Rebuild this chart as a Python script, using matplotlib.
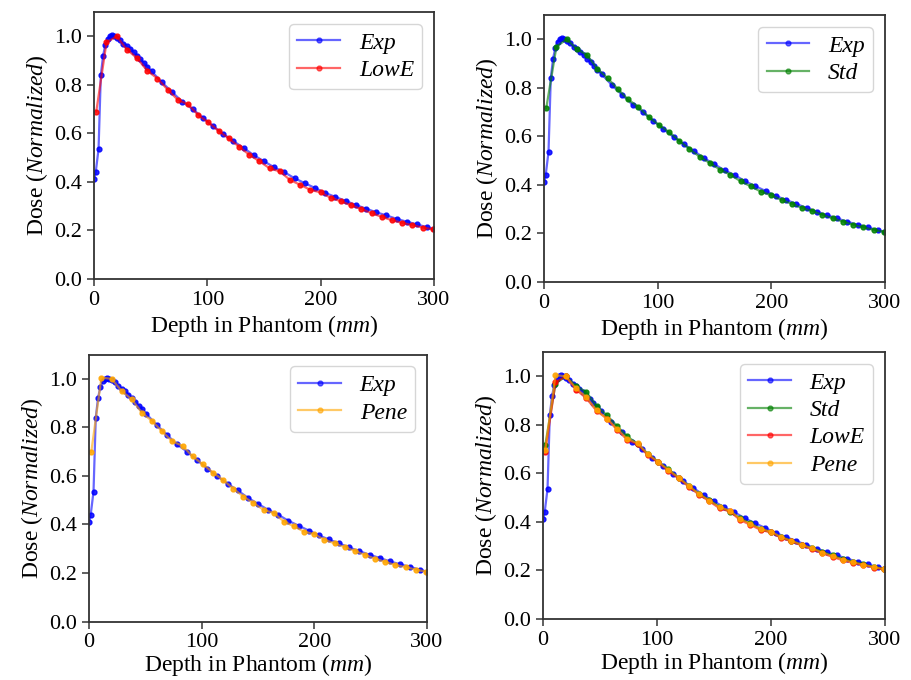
import numpy as np
import matplotlib
matplotlib.use("Agg")
import matplotlib.pyplot as plt

plt.rcParams['font.family'] = ['Liberation Serif', 'DejaVu Serif']
plt.rcParams['mathtext.fontset'] = 'custom'
plt.rcParams['mathtext.rm'] = 'Liberation Serif'
plt.rcParams['mathtext.it'] = 'Liberation Serif:italic'

# measured depth dose (Exp)
x_exp = [0, 1.5, 4, 6, 8, 10, 12, 14, 16, 18, 20, 23, 26, 29, 32, 35, 38, 41, 44, 47,
         51, 60, 69, 78, 87, 96, 105, 114, 123, 132, 141, 150, 159, 168, 177, 186,
         195, 204, 213, 222, 231, 240, 249, 258, 267, 276, 285, 294, 300]
y_exp = [0.41, 0.44, 0.535, 0.84, 0.92, 0.965, 0.99, 1.0, 1.005, 1.0, 0.995, 0.985,
         0.97, 0.96, 0.948, 0.935, 0.92, 0.905, 0.89, 0.875,
         0.855, 0.81, 0.77, 0.73, 0.70, 0.665, 0.63, 0.598, 0.568, 0.54, 0.51, 0.485,
         0.46, 0.44, 0.415, 0.395, 0.375, 0.355, 0.338, 0.322, 0.305, 0.29, 0.275,
         0.262, 0.248, 0.236, 0.225, 0.213, 0.205]

# simulated depth dose, physics lists
x_sim = [2, 11, 20, 29, 38, 47, 56, 65, 74, 83, 92, 101, 110, 119, 128, 137, 146,
         155, 164, 173, 182, 191, 200, 209, 218, 227, 236, 245, 254, 263, 272, 281,
         290, 299]
y_std = [0.716, 0.97, 1.0, 0.96, 0.935, 0.878, 0.84, 0.795, 0.752, 0.722, 0.68,
         0.648, 0.618, 0.582, 0.548, 0.516, 0.49, 0.463, 0.442, 0.415, 0.394, 0.372,
         0.357, 0.338, 0.322, 0.305, 0.292, 0.277, 0.262, 0.249, 0.236, 0.225,
         0.215, 0.207]
y_lowe = [0.69, 0.975, 1.0, 0.945, 0.91, 0.858, 0.826, 0.78, 0.738, 0.72, 0.675,
          0.645, 0.61, 0.579, 0.545, 0.512, 0.485, 0.456, 0.443, 0.408, 0.388,
          0.367, 0.357, 0.334, 0.32, 0.303, 0.288, 0.271, 0.256, 0.242, 0.231,
          0.222, 0.212, 0.205]
y_pene = [0.698, 1.005, 1.0, 0.95, 0.915, 0.86, 0.826, 0.783, 0.742, 0.724, 0.68,
          0.648, 0.614, 0.583, 0.548, 0.515, 0.488, 0.46, 0.447, 0.412, 0.392, 0.37,
          0.36, 0.337, 0.322, 0.306, 0.291, 0.274, 0.259, 0.245, 0.233, 0.224,
          0.214, 0.206]

series = {
    'Exp': (x_exp, y_exp, 'blue'),
    'Std': (x_sim, y_std, 'green'),
    'LowE': (x_sim, y_lowe, 'red'),
    'Pene': (x_sim, y_pene, 'orange'),
}

panels = [
    ([0.1032, 0.5897, 0.3732, 0.3926], ['Exp', 'LowE']),
    ([0.5971, 0.5853, 0.3743, 0.3926], ['Exp', 'Std']),
    ([0.0977, 0.0860, 0.3710, 0.3926], ['Exp', 'Pene']),
    ([0.5960, 0.0897, 0.3754, 0.3926], ['Exp', 'Std', 'LowE', 'Pene']),
]

fig = plt.figure(figsize=(9.11, 6.8), dpi=100)

for i, (rect, names) in enumerate(panels):
    ax = fig.add_axes(rect)
    for nm in names:
        xs, ys, col = series[nm]
        ax.plot(xs, ys, '-', color=col, lw=1.6, alpha=0.6)
        ax.plot(xs, ys, 'o', color=col, ms=3.5, alpha=0.85)
    # legend proxies: light line with a small solid dot
    handles = [plt.Line2D([], [], color=series[nm][2], lw=1.6, alpha=0.6,
                          marker='o', ms=3.5) for nm in names]
    ax.legend(handles, names, loc='upper right', prop={'style': 'italic', 'size': 17},
              handlelength=1.8, borderpad=0.35, labelspacing=0.25, handletextpad=0.8,
              fancybox=True, framealpha=0.8)
    ax.set_xlim(0, 300)
    ax.set_ylim(0, 1.1)
    ax.set_xticks([0, 100, 200, 300])
    ax.set_yticks([0.0, 0.2, 0.4, 0.6, 0.8, 1.0])
    ax.set_yticklabels(['0.0', '0.2', '0.4', '0.6', '0.8', '1.0'])
    ax.tick_params(labelsize=16, width=1.2, length=5, color='#444444')
    for sp in ax.spines.values():
        sp.set_linewidth(1.3)
        sp.set_color('#333333')
    ax.set_xlabel('Depth in Phantom ($\\mathit{mm}$)', fontsize=17,
                  labelpad=2 if i < 2 else 0)
    ax.set_ylabel('Dose ($\\mathit{Normalized}$)', fontsize=17, labelpad=3)

fig.savefig('out.png', dpi=100)
